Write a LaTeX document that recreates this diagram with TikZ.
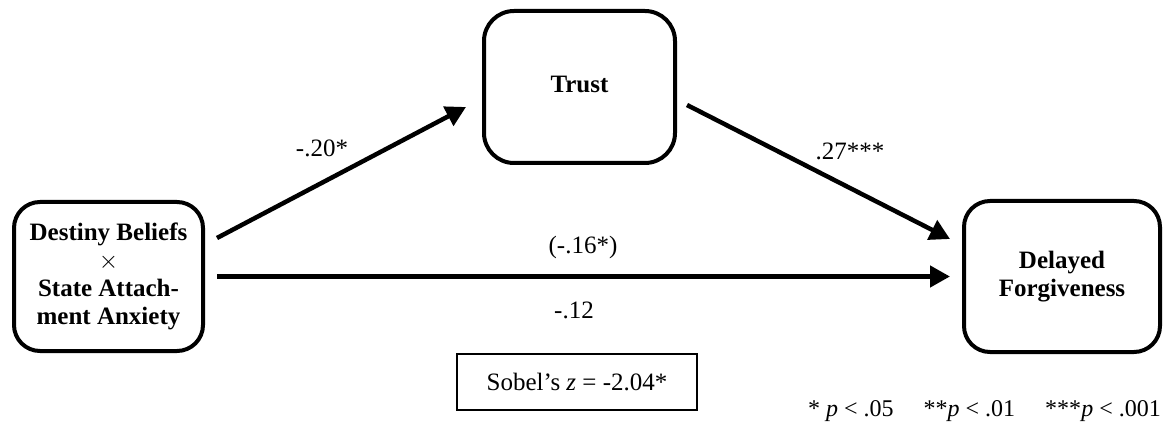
\documentclass[tikz,border=0pt]{standalone}
\usepackage{fontspec}
\setmainfont{Liberation Serif}
\usetikzlibrary{arrows.meta}

\begin{document}
\begin{tikzpicture}[x=1pt,y=-1pt,
  varbox/.style={draw=black, line width=4pt, rounded corners=26pt, align=center,
    font=\fontsize{25}{28}\selectfont\bfseries, inner sep=0pt},
  path/.style={line width=4.5pt, -{Triangle[length=20pt,width=21pt]}},
  coef/.style={font=\fontsize{25}{28}\selectfont, inner sep=0pt},
  notebox/.style={draw=black, line width=1.5pt, minimum width=240pt, minimum height=56pt,
    font=\fontsize{25}{28}\selectfont, inner sep=0pt},
  legend/.style={font=\fontsize{24}{26}\selectfont, inner sep=0pt}]
\useasboundingbox[fill=white] (0,0) rectangle (1168,433);

% variables
\node[varbox, minimum width=189pt, minimum height=149pt] (src) at (108.5,276.5)
  {Destiny Beliefs\\{\mdseries$\times$}\\State Attach-\\ment Anxiety};
\node[varbox, minimum width=191pt, minimum height=152pt, rounded corners=30pt] (trust) at (579.5,87)
  {\raisebox{5pt}{Trust}};
\node[varbox, minimum width=196pt, minimum height=151pt] (out) at (1062,276.5)
  {Delayed\\Forgiveness};

% paths
\draw[path] ([xshift=12pt,yshift=38.5pt]src.east) -- ([xshift=-16pt,yshift=-20pt]trust.west);
\draw[path] ([xshift=10pt,yshift=-18pt]trust.east) -- ([xshift=-12pt,yshift=37.5pt]out.west);
\draw[path] ([xshift=12pt]src.east) -- ([xshift=-12pt]out.west);

% coefficients
\node[coef] (ca) at (322,148) {-.20*};
\node[coef] (cb) at (850,151) {.27***};
\node[coef] (cc) at (583,247) {(-.16*)};
\node[coef] (cd) at (574,310) {-.12};

% indirect effect test and significance key
\node[notebox] (sobel) at (577,382) {Sobel's \textit{z} = -2.04*};
\node[legend, anchor=base east] (key) at (1161,416)
  {* \textit{p} < .05\hspace{30pt}**\textit{p} < .01\hspace{30pt}***\textit{p} < .001};
\end{tikzpicture}
\end{document}
